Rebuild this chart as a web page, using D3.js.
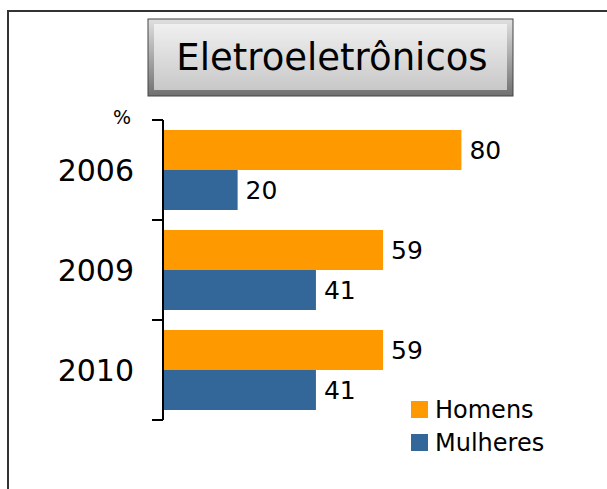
<!DOCTYPE html>
<html><head><meta charset="utf-8">
<script src="https://cdn.jsdelivr.net/npm/d3@7"></script>
<style>html,body{margin:0;padding:0;background:#fff;}svg{display:block;font-family:"DejaVu Sans",Verdana,sans-serif;}</style>
</head><body>
<script>
const title = "Eletroeletrônicos";
const years = ["2006", "2009", "2010"];
const seriesNames = ["Homens", "Mulheres"];
const homens = [80, 59, 59];
const mulheres = [20, 41, 41];
const colors = ["#FF9900", "#336699"];

const W = 607, H = 489;
const svg = d3.select("body").append("svg").attr("width", W).attr("height", H);

// outer frame
svg.append("rect").attr("x", 8).attr("y", 11).attr("width", W).attr("height", H)
  .attr("fill", "none").attr("stroke", "#333").attr("stroke-width", 2);

// title box
const defs = svg.append("defs");
const g1 = defs.append("linearGradient").attr("id", "tg").attr("x1", 0).attr("y1", 0).attr("x2", 0).attr("y2", 1);
g1.append("stop").attr("offset", "0%").attr("stop-color", "#f0f0f0");
g1.append("stop").attr("offset", "100%").attr("stop-color", "#c8c8c8");
const g2 = defs.append("linearGradient").attr("id", "tb").attr("x1", 0).attr("y1", 0).attr("x2", 0).attr("y2", 1);
g2.append("stop").attr("offset", "0%").attr("stop-color", "#e0e0e0");
g2.append("stop").attr("offset", "100%").attr("stop-color", "#707070");
svg.append("rect").attr("x", 148).attr("y", 19).attr("width", 365).attr("height", 77)
  .attr("fill", "url(#tb)").attr("stroke", "#444").attr("stroke-width", 1);
svg.append("rect").attr("x", 154).attr("y", 24).attr("width", 353).attr("height", 66)
  .attr("fill", "url(#tg)");
svg.append("text").attr("x", 332).attr("y", 70).attr("text-anchor", "middle")
  .attr("font-size", 37).attr("fill", "#000").text(title);

// scales
const x = d3.scaleLinear().domain([0, 100]).range([163, 536]);
const y = d3.scaleBand().domain(years).range([120, 420]).paddingInner(0).paddingOuter(0);
const yIn = d3.scaleBand().domain(seriesNames).range([0, y.bandwidth()]).paddingInner(0).paddingOuter(0.25);

const data = years.map((yr, i) => ({ year: yr, vals: [homens[i], mulheres[i]] }));

const groups = svg.selectAll("g.grp").data(data).join("g").attr("class", "grp")
  .attr("transform", d => `translate(0,${y(d.year)})`);
groups.selectAll("rect").data(d => d.vals.map((v, j) => ({ v, s: seriesNames[j], j })))
  .join("rect")
  .attr("x", x(0)).attr("y", d => yIn(d.s)).attr("width", d => x(d.v) - x(0))
  .attr("height", yIn.bandwidth()).attr("fill", d => colors[d.j]);
groups.selectAll("text").data(d => d.vals.map((v, j) => ({ v, s: seriesNames[j], j })))
  .join("text")
  .attr("x", d => x(d.v) + 8).attr("y", d => yIn(d.s) + yIn.bandwidth() / 2)
  .attr("dy", "0.36em").attr("font-size", 25).attr("fill", "#000").text(d => d.v);

// axis
const axis = d3.axisLeft(y).tickSize(0).tickFormat("");
const ag = svg.append("g").attr("transform", `translate(${x(0)},0)`).call(axis);
ag.select(".domain").attr("stroke", "#000").attr("stroke-width", 2).attr("d", "M0,120V420");
const bounds = years.map(yr => y(yr)).concat([y(years[years.length - 1]) + y.bandwidth()]);
svg.selectAll("line.tk").data(bounds).join("line").attr("class", "tk")
  .attr("x1", 152).attr("x2", x(0)).attr("y1", d => d).attr("y2", d => d)
  .attr("stroke", "#000").attr("stroke-width", 2);
svg.selectAll("text.cat").data(years).join("text").attr("class", "cat")
  .attr("x", 134).attr("y", d => y(d) + y.bandwidth() / 2).attr("dy", "0.36em")
  .attr("text-anchor", "end").attr("font-size", 30).attr("fill", "#000").text(d => d);
svg.append("text").attr("x", 131).attr("y", 124).attr("text-anchor", "end")
  .attr("font-size", 19).attr("fill", "#000").text("%");

// legend
const lg = svg.append("g");
seriesNames.forEach((s, i) => {
  lg.append("rect").attr("x", 411).attr("y", 401 + i * 33).attr("width", 17).attr("height", 17).attr("fill", colors[i]);
  lg.append("text").attr("x", 435).attr("y", 409.5 + i * 33).attr("dy", "0.36em")
    .attr("font-size", 24).attr("fill", "#000").text(s);
});
</script>
</body></html>
